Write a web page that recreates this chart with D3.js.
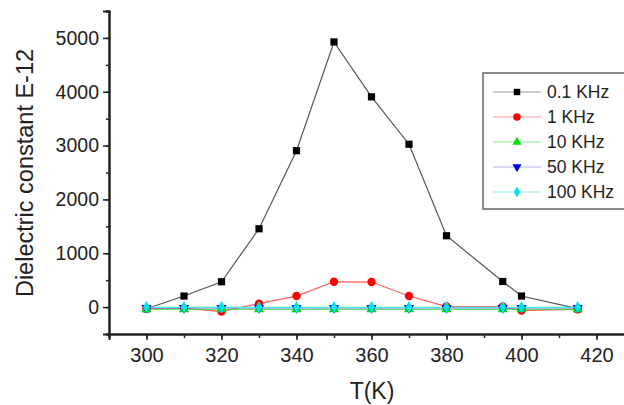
<!DOCTYPE html>
<html>
<head>
<meta charset="utf-8">
<script src="https://d3js.org/d3.v7.min.js"></script>
<style>
  body { margin: 0; background: #fff; }
  text { font-family: "Liberation Sans", Arial, sans-serif; fill: #222; }
</style>
</head>
<body>
<div id="graph-area"></div>
<script>

const temps = [300, 310, 320, 330, 340, 350, 360, 370, 380, 395, 400, 415];

const k01  = [-30, 205, 470, 1455, 2905, 4925, 3905, 3025, 1325, 475, 205, -30];
const k1   = [-30, -20, -85, 65, 205, 470, 465, 205, 10, 10, -65, -40];
const k10  = [-40, -40, -40, -40, -40, -40, -40, -40, -40, -40, -40, -40];
const k50  = [-15, -15, -15, -15, -15, -15, -15, -15, -15, -15, -15, -15];
const k100 = [-5, -5, -5, -5, -5, -5, -5, -5, -5, -5, -5, -5];

const seriesNames = ["0.1 KHz", "1 KHz", "10 KHz", "50 KHz", "100 KHz"];
const xTicks = [300, 320, 340, 360, 380, 400, 420];
const yTicks = [0, 1000, 2000, 3000, 4000, 5000];

const w = 624;
const h = 405;

const xScale = d3.scaleLinear().domain([290, 430]).range([109, 634]);
const yScale = d3.scaleLinear().domain([-500, 5500]).range([334, 11]);

const svg = d3.select("#graph-area").append("svg")
  .attr("width", w)
  .attr("height", h);

const series = [
  { name: seriesNames[0], values: k01,  line: "#555", fill: "#000", shape: d3.symbolSquare,   size: 52, rot: 0 },
  { name: seriesNames[1], values: k1,   line: "#ff5a5a", fill: "#ff0000", shape: d3.symbolCircle, size: 55, rot: 0 },
  { name: seriesNames[2], values: k10,  line: "#33dd33", fill: "#00dd00", shape: d3.symbolTriangle, size: 45, rot: 0 },
  { name: seriesNames[3], values: k50,  line: "#7a7aff", fill: "#0000ee", shape: d3.symbolTriangle, size: 45, rot: 180 },
  { name: seriesNames[4], values: k100, line: "#44e8e8", fill: "#00e5e5", shape: d3.symbolDiamond, size: 45, rot: 0 }
];

// axes
const xAxis = d3.axisBottom(xScale).tickValues(xTicks).tickSize(6).tickPadding(8).tickFormat(d3.format("d"));
const xMinor = d3.axisBottom(xScale).tickValues(d3.range(290, 431, 10)).tickSize(4).tickFormat("");
const yAxis = d3.axisLeft(yScale).tickValues(yTicks).tickSize(6).tickPadding(4).tickFormat(d3.format("d"));
const yMinor = d3.axisLeft(yScale).tickValues(d3.range(-500, 5501, 500)).tickSize(3).tickFormat("");

svg.append("g").attr("transform", "translate(0,334)").call(xMinor);
const gx = svg.append("g").attr("transform", "translate(0,334)").call(xAxis);
svg.append("g").attr("transform", "translate(109,0)").call(yMinor);
const gy = svg.append("g").attr("transform", "translate(109,0)").call(yAxis);

svg.selectAll(".domain").attr("stroke", "#222").attr("stroke-width", 2);
svg.selectAll(".tick line").attr("stroke", "#222").attr("stroke-width", 1.5);
gx.selectAll("text").style("font-size", "20px").attr("fill", "#222");
gy.selectAll("text").style("font-size", "19.5px").attr("fill", "#222");

// axis titles
svg.append("text")
  .attr("x", 372).attr("y", 399)
  .style("text-anchor", "middle").style("font-size", "23px")
  .text("T(K)");

svg.append("text")
  .attr("transform", "translate(33," + 173 + ") rotate(-90)")
  .style("text-anchor", "middle").style("font-size", "23.5px")
  .text("Dielectric constant E-12");

// lines and markers
const line = d3.line()
  .x((d, i) => xScale(temps[i]))
  .y(d => yScale(d));

series.forEach(s => {
  svg.append("path")
    .datum(s.values)
    .attr("fill", "none")
    .attr("stroke", s.line)
    .attr("stroke-width", 1.2)
    .attr("d", line);
});

series.forEach(s => {
  svg.append("g").selectAll("path")
    .data(s.values)
    .enter()
    .append("path")
    .attr("d", d3.symbol().type(s.shape).size(s.size))
    .attr("transform", (d, i) => "translate(" + xScale(temps[i]) + "," + yScale(d) + ") rotate(" + s.rot + ")")
    .attr("fill", s.fill);
});

// legend
const legend = svg.append("g").attr("transform", "translate(483,73)");
legend.append("rect")
  .attr("width", 150).attr("height", 136)
  .attr("fill", "#fff").attr("stroke", "#666").attr("stroke-width", 1.5);

series.forEach((s, i) => {
  const yy = 19 + i * 25;
  legend.append("line")
    .attr("x1", 10).attr("x2", 58).attr("y1", yy).attr("y2", yy)
    .attr("stroke", s.line).attr("stroke-opacity", 0.6).attr("stroke-width", 1.2);
  legend.append("path")
    .attr("d", d3.symbol().type(s.shape).size(s.size * 0.8))
    .attr("transform", "translate(34," + yy + ") rotate(" + s.rot + ")")
    .attr("fill", s.fill);
  legend.append("text")
    .attr("x", 64).attr("y", yy + 6)
    .style("font-size", "17.5px")
    .text(s.name);
});

</script>
</body>
</html>
